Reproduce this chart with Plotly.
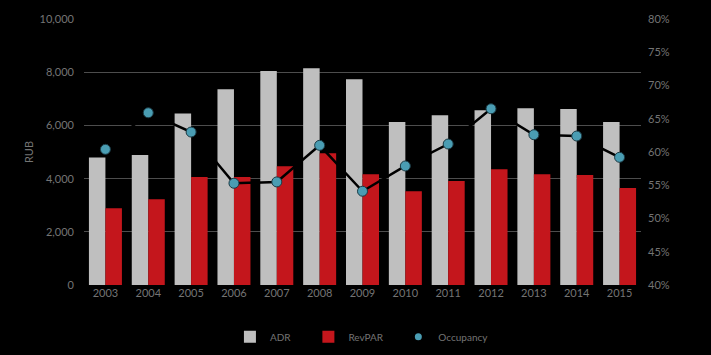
import plotly.graph_objects as go

years = ["2003","2004","2005","2006","2007","2008","2009","2010","2011","2012","2013","2014","2015"]
adr = [4800, 4890, 6450, 7370, 8050, 8160, 7740, 6130, 6390, 6580, 6650, 6620, 6130]
revpar = [2890, 3230, 4060, 4060, 4470, 4960, 4170, 3530, 3910, 4360, 4170, 4140, 3650]
occupancy = [60.4, 65.9, 63.0, 55.3, 55.5, 61.0, 54.1, 57.9, 61.2, 66.5, 62.6, 62.4, 59.2]

font_family = "Lato, Open Sans, sans-serif"
tick_color = "#747474"
occ_color = "#4a9db3"
nb = "\u00a0"

fig = go.Figure()
fig.add_trace(go.Bar(x=years, y=adr, name="ADR" + nb * 5, marker_color="#bfbfbf", marker_line_width=0))
fig.add_trace(go.Bar(x=years, y=revpar, name="RevPAR" + nb * 4, marker_color="#c4161c", marker_line_width=0))
fig.add_trace(go.Scatter(x=years, y=[v/100 for v in occupancy], name="Occupancy", yaxis="y2",
                         mode="lines+markers", showlegend=False, legendgroup="occ",
                         line=dict(color="#000000", width=2.5),
                         marker=dict(color=occ_color, size=10, line=dict(color="#1b3a44", width=1))))
fig.add_trace(go.Scatter(x=[years[0]], y=[None], name="Occupancy", yaxis="y2", legendgroup="occ",
                         mode="markers", marker=dict(color=occ_color, size=7)))

fig.update_layout(
    width=711, height=355,
    paper_bgcolor="#000000", plot_bgcolor="#000000",
    margin=dict(l=84, r=70, t=19, b=70, autoexpand=False),
    barmode="group", bargap=0.23, bargroupgap=0,
    font=dict(family=font_family, size=11, color=tick_color),
    showlegend=True,
    legend=dict(orientation="h", x=0.262, xanchor="left", y=-0.14, yanchor="top",
                font=dict(size=10, color=tick_color), traceorder="normal",
                itemwidth=30),
    xaxis=dict(range=[-0.5, 12.5], autorange=False, showgrid=False, zeroline=False,
               showline=False, ticks="", automargin=False,
               tickfont=dict(size=11, color=tick_color)),
    yaxis=dict(range=[0, 10010], tickvals=[0, 2000, 4000, 6000, 8000, 10000], tickformat=",d",
               showgrid=True, automargin=False, ticklabelstandoff=9,
               gridcolor="#4d4d4d", gridwidth=1, zeroline=False, showline=False,
               title=dict(text="RUB", font=dict(size=11, color=tick_color), standoff=3),
               tickfont=dict(size=11, color=tick_color)),
    yaxis2=dict(range=[0.40, 0.80], dtick=0.05, tickformat=".0%", overlaying="y", side="right",
                showgrid=False, zeroline=False, showline=False, automargin=False,
                ticklabelstandoff=6, tickfont=dict(size=11, color=tick_color)),
)

post = ("document.documentElement.style.margin='0';document.body.style.margin='0';"
        "document.body.style.padding='0';document.body.style.background='#000';"
        "document.body.style.overflow='hidden';")

fig.write_html("out.html", post_script=post,
               config={"responsive": False, "displayModeBar": False})
